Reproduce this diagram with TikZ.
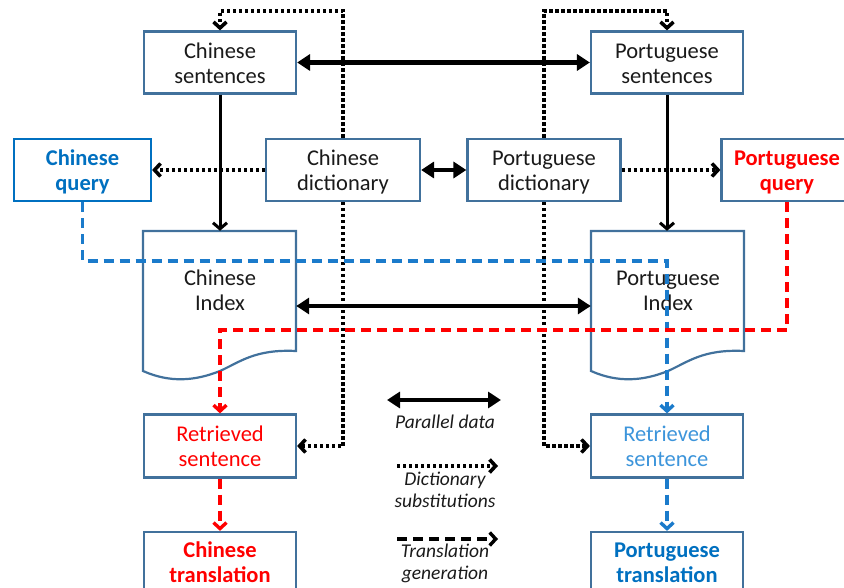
\documentclass[tikz,border=0pt]{standalone}
\usepackage{fontspec}
\setmainfont{Carlito}
\usetikzlibrary{arrows.meta}
\definecolor{boxc}{HTML}{41719C}
\definecolor{qblue}{HTML}{0070C0}
\definecolor{lblue}{HTML}{3D95DB}
\definecolor{dblue}{HTML}{1B7BCB}
\definecolor{txt}{HTML}{1A1A1A}
\definecolor{qred}{HTML}{FF0000}
\begin{document}
\begin{tikzpicture}[x=1pt,y=-1pt,
  box/.style={draw=boxc, line width=2.2pt, fill=white, minimum width=152pt, minimum height=62pt,
    align=center, font=\fontsize{22.5}{25}\selectfont, text=txt, inner sep=0pt,
    text height=41.6pt, text depth=0pt},
  boldbox/.style={box, font=\fontsize{22.5}{25}\selectfont\bfseries},
  idxshape/.style={draw=boxc, line width=2.2pt, fill=white},
  idxtext/.style={align=center, font=\fontsize{22.5}{25}\selectfont, text=txt, inner sep=0pt,
    text height=41.6pt, text depth=0pt},
  legend/.style={align=center, font=\fontsize{19.5}{22.5}\selectfont\itshape, text=txt, inner sep=0pt,
    text depth=0pt, anchor=south},
  pararr/.style={line width=4.5pt, {Triangle[length=13pt,width=16pt]}-{Triangle[length=13pt,width=16pt]}},
  downarr/.style={line width=3pt, -{Straight Barb[length=6pt,width=14pt]}},
  dictarr/.style={line width=3.6pt, dash pattern=on 3.4pt off 2.6pt, -{Straight Barb[length=6pt,width=13pt]}},
  transarr/.style={line width=3.4pt, dash pattern=on 10pt off 6pt, -{Straight Barb[length=6pt,width=13pt]}}
]
\useasboundingbox (0,0) rectangle (844,588);
\clip (0,0) rectangle (844,588);

% index document shapes
\node[minimum width=153pt, minimum height=150pt, inner sep=0pt] (ci) at (219.5,306) {};
\node[minimum width=153pt, minimum height=150pt, inner sep=0pt] (pi) at (667.5,306) {};
\draw[idxshape] (143,231) -- (296,231) -- (296,351)
  .. controls (255,349) and (240,362) .. (220,371)
  .. controls (195,381) and (170,383) .. (143,371) -- cycle;
\begin{scope}[xshift=448pt]
\draw[idxshape] (143,231) -- (296,231) -- (296,351)
  .. controls (255,349) and (240,362) .. (220,371)
  .. controls (195,381) and (170,383) .. (143,371) -- cycle;
\end{scope}
\node[idxtext] (cit) at (220,290) {Chinese\\Index};
\node[idxtext] (pit) at (668,290) {Portuguese\\Index};

% boxes
\node[box] (cs) at (220,62.5) {Chinese\\sentences};
\node[box] (ps) at (667,62.5) {Portuguese\\sentences};
\node[boldbox, draw=qblue, minimum width=137pt, text=qblue] (cq) at (82.5,170) {Chinese\\query};
\node[box, minimum width=154pt] (cd) at (343,170) {Chinese\\dictionary};
\node[box, minimum width=153pt] (pd) at (544,170) {Portuguese\\dictionary};
\node[boldbox, minimum width=131pt, text=qred] (pq) at (787,170) {Portuguese\\query};
\node[box, minimum height=63pt, text=qred] (cr) at (220,446) {Retrieved\\sentence};
\node[box, minimum height=63pt, text=lblue] (pr) at (667,446) {Retrieved\\sentence};
\node[boldbox, minimum height=60pt, text=qred] (ct) at (220,562) {Chinese\\translation};
\node[boldbox, minimum height=60pt, text=qblue] (pt) at (667,562) {Portuguese\\translation};

% named turning points
\coordinate (cdtop) at (343,11);
\coordinate (pdtop) at (544,11);
\coordinate (bturn) at (82.5,261);
\coordinate (rturn) at (787,330);

% parallel data
\draw[pararr] (cs) -- (ps);
\draw[pararr] (cd) -- (pd);
\draw[pararr] (ci) -- (pi);

% sentences to index
\draw[downarr] (cs.south) -- (cs.south |- ci.north);
\draw[downarr] (ps.south) -- (ps.south |- pi.north);

% dictionary substitutions
\draw[dictarr] (cd) -- (cq);
\draw[dictarr] (pd) -- (pq);
\draw[dictarr] (cd.north) -- (cdtop) -| (cs.north);
\draw[dictarr] (pd.north) -- (pdtop) -| (ps.north);
\draw[dictarr] (cd.south) |- (cr.east);
\draw[dictarr] (pd.south) |- (pr.west);

% translation generation
\draw[transarr, dblue] (cq.south) -- (bturn) -| (pr.north);
\draw[transarr, qred] (pq.south) -- (rturn) -| (cr.north);
\draw[transarr, qred] (cr) -- (ct);
\draw[transarr, dblue] (pr) -- (pt);

% legend
\coordinate (l1a) at (387,400); \coordinate (l1b) at (501,400);
\coordinate (l2a) at (397,466); \coordinate (l2b) at (498,466);
\coordinate (l3a) at (397,539); \coordinate (l3b) at (498,539);
\draw[pararr] (l1a) -- (l1b);
\draw[dictarr] (l2a) -- (l2b);
\draw[transarr] (l3a) -- (l3b);
\node[legend] (lg1) at (445,428.3) {Parallel data};
\node[legend] (lg2) at (445,508) {Dictionary\\substitutions};
\node[legend] (lg3) at (445,580) {Translation\\generation};
\end{tikzpicture}
\end{document}
